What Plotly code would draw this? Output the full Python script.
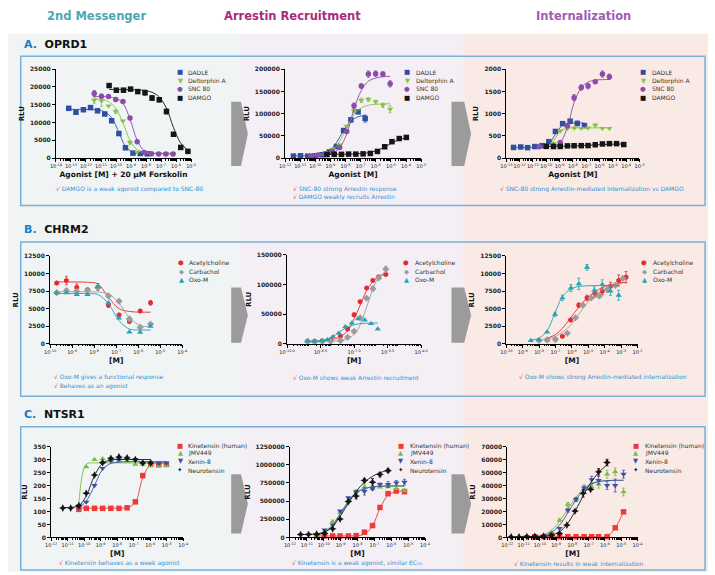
import plotly.graph_objects as go

W, H = 715, 575

# ================= DATA (x = log10 [M], y = RLU) =================
# ---- A. OPRD1 : 2nd messenger ----
A1_DADLE_X = [-13.15, -12.67, -12.17, -11.7, -11.23, -10.75, -10.29, -9.81, -9.37, -8.87, -8.39, -7.9]
A1_DADLE_Y = [14000, 12900, 13600, 14200, 13300, 12400, 10500, 6900, 2900, 1400, 1300, 1200]
A1_DADLE_E = [0, 0, 0, 0, 0, 0, 0, 0, 0, 0, 0, 0]
A1_DADLE_FIT = [13700, 13700, 13700, 13650, 13500, 13000, 11300, 7300, 3300, 1600, 1200, 1100]
A1_DELT_X = [-11.45, -10.97, -10.5, -10.02, -9.54, -9.07, -8.59, -8.11, -7.64, -7.16, -6.68, -6.2]
A1_DELT_Y = [16300, 16100, 14700, 13100, 10500, 4400, 1700, 1400, 1300, 1300, 1300, 1300]
A1_DELT_E = [900, 1500, 0, 500, 0, 500, 0, 0, 0, 0, 0, 0]
A1_DELT_FIT = [16700, 16500, 15900, 14000, 10000, 5000, 2300, 1500, 1350, 1300, 1300, 1300]
A1_SNC_X = [-11.45, -10.97, -10.5, -10.02, -9.54, -9.07, -8.59, -8.11, -7.64, -7.16, -6.68, -6.2]
A1_SNC_Y = [18200, 17400, 17300, 16500, 15900, 11300, 4600, 1600, 1200, 1150, 1150, 1150]
A1_SNC_E = [800, 600, 0, 500, 0, 0, 0, 0, 0, 0, 0, 0]
A1_SNC_FIT = [17300, 17300, 17200, 16800, 15400, 11000, 5000, 2000, 1400, 1250, 1200, 1200]
A1_DAMGO_X = [-10.46, -9.98, -9.5, -9.03, -8.55, -8.07, -7.6, -7.12, -6.64, -6.17, -5.69, -5.21]
A1_DAMGO_Y = [20400, 19100, 19100, 19400, 18700, 18400, 16900, 16400, 13100, 6700, 3000, 1900]
A1_DAMGO_E = [0, 0, 0, 400, 0, 700, 700, 600, 700, 0, 0, 0]
A1_DAMGO_FIT = [19300, 19300, 19300, 19250, 19200, 19000, 18500, 17200, 14000, 8600, 4200, 2200]

# ---- A. OPRD1 : arrestin recruitment ----
A2_DADLE_X = [-11.45, -10.98, -10.5, -10.03, -9.55, -9.07, -8.6, -8.13, -7.65, -7.17, -6.7]
A2_DADLE_Y = [4500, 5200, 4500, 5200, 7500, 14000, 26000, 62000, 86000, 104000, 89000]
A2_DADLE_E = [0, 0, 0, 0, 0, 0, 0, 0, 5000, 0, 8000]
A2_DADLE_FIT = [5000, 5000, 5200, 6000, 8500, 16000, 35000, 62000, 83000, 93000, 96000]
A2_DELT_X = [-10.3, -9.82, -9.35, -8.87, -8.39, -7.92, -7.44, -6.96, -6.49, -6.01, -5.53, -5.05]
A2_DELT_Y = [5000, 8000, 12000, 20000, 30000, 72000, 106000, 130000, 132000, 127000, 119000, 110000]
A2_DELT_E = [0, 0, 0, 0, 0, 0, 4000, 5000, 4000, 3000, 5000, 8000]
A2_DELT_FIT = [5500, 6500, 9000, 17000, 38000, 68000, 98000, 113000, 119000, 121000, 122000, 122000]
A2_SNC_X = [-10.3, -9.82, -9.35, -8.87, -8.39, -7.92, -7.44, -6.96, -6.49, -6.01, -5.53, -5.05]
A2_SNC_Y = [5000, 7000, 10000, 15000, 24000, 60000, 118000, 162000, 189000, 190000, 189000, 167000]
A2_SNC_E = [0, 0, 0, 0, 0, 4000, 6000, 5000, 7000, 6000, 5000, 7000]
A2_SNC_FIT = [5000, 5500, 7000, 11000, 23000, 55000, 110000, 152000, 173000, 180000, 183000, 184000]
A2_DAMGO_X = [-9.23, -8.75, -8.27, -7.8, -7.32, -6.84, -6.36, -5.89, -5.41, -4.93, -4.45, -3.98]
A2_DAMGO_Y = [8000, 8500, 8500, 9000, 9000, 9500, 10500, 15000, 25500, 37000, 44000, 46500]
A2_DAMGO_E = [0, 0, 0, 0, 0, 0, 0, 0, 0, 0, 0, 0]
A2_DAMGO_FIT = [8500, 8600, 8700, 9000, 9500, 10500, 13000, 17500, 25000, 34000, 41500, 46000]

# ---- A. OPRD1 : internalization ----
A3_DADLE_X = [-12.46, -11.92, -11.4, -10.86, -10.32, -9.81, -9.31, -8.77, -8.21, -7.67, -7.13]
A3_DADLE_Y = [240, 250, 235, 260, 280, 370, 600, 775, 830, 780, 730]
A3_DADLE_E = [0, 0, 0, 0, 0, 0, 0, 30, 40, 50, 30]
A3_DADLE_FIT = [240, 240, 242, 245, 255, 310, 540, 740, 785, 790, 790]
A3_DELT_X = [-10.0, -9.46, -8.95, -8.41, -7.89, -7.37, -6.86, -6.32, -5.78, -5.26]
A3_DELT_Y = [250, 330, 610, 670, 680, 670, 680, 740, 670, 670]
A3_DELT_E = [0, 0, 0, 0, 0, 0, 0, 30, 0, 0]
A3_DELT_FIT = [255, 380, 610, 670, 680, 680, 680, 680, 680, 680]
A3_SNC_X = [-10.54, -10.0, -9.46, -8.95, -8.41, -7.91, -7.37, -6.86, -6.32, -5.78, -5.26]
A3_SNC_Y = [255, 270, 280, 350, 730, 1360, 1590, 1620, 1720, 1890, 1830]
A3_SNC_E = [0, 0, 0, 0, 0, 70, 60, 60, 0, 70, 60]
A3_SNC_FIT = [260, 262, 275, 350, 700, 1250, 1580, 1710, 1755, 1765, 1770]
A3_DAMGO_X = [-10.0, -9.46, -8.95, -8.41, -7.91, -7.37, -6.86, -6.32, -5.78, -5.26, -4.72, -4.18]
A3_DAMGO_Y = [265, 260, 262, 275, 278, 280, 282, 300, 318, 325, 325, 305]
A3_DAMGO_E = [0, 0, 0, 0, 0, 0, 0, 0, 0, 0, 0, 0]
A3_DAMGO_FIT = [262, 263, 265, 270, 275, 282, 290, 298, 305, 311, 315, 318]

# ---- B. CHRM2 : 2nd messenger ----
B1_X = [-9.7, -9.26, -8.79, -8.3, -7.83, -7.35, -6.87, -6.4, -5.91, -5.44]
B1_ACH_Y = [8630, 9000, 8020, 7700, 8070, 5500, 4100, 3170, 4660, 5830]
B1_ACH_E = [0, 600, 500, 0, 500, 300, 0, 0, 0, 300]
B1_ACH_FIT = [8800, 8800, 8790, 8750, 8500, 6600, 5000, 4600, 4500, 4500]
B1_CARB_Y = [7280, 7560, 7460, 7600, 8020, 6810, 6060, 3540, 2330, 2800]
B1_CARB_E = [200, 300, 0, 0, 0, 0, 250, 0, 0, 0]
B1_CARB_FIT = [7400, 7400, 7400, 7400, 7350, 7100, 5800, 3700, 2600, 2420]
B1_OXO_Y = [7230, 7230, 7000, 7000, 8070, 5830, 3640, 1680, 1630, 2470]
B1_OXO_E = [0, 0, 0, 0, 0, 0, 0, 0, 0, 0]
B1_OXO_FIT = [7150, 7150, 7150, 7140, 7000, 5700, 3300, 2100, 1970, 1950]

# ---- B. CHRM2 : arrestin recruitment ----
B2_X = [-9.08, -8.76, -8.42, -8.05, -7.61, -7.29, -7.0, -6.73, -6.44, -6.16, -5.9, -5.58]
B2_ACH_Y = [4500, 4500, 5000, 7000, 13000, 25000, 49000, 71000, 94000, 107000, 113000, 117000]
B2_ACH_E = [0, 0, 0, 0, 0, 0, 3000, 0, 0, 0, 0, 0]
B2_ACH_FIT = [4500, 4600, 5000, 6500, 12000, 22000, 42000, 65000, 90000, 105000, 113000, 118000]
B2_CARB_Y = [4000, 3500, 4000, 4500, 5500, 11000, 21000, 44000, 77000, 93000, 111000, 126000]
B2_CARB_E = [0, 0, 0, 0, 0, 0, 0, 0, 0, 4000, 3000, 5000]
B2_CARB_FIT = [4000, 4000, 4100, 4400, 5500, 8500, 16000, 32000, 62000, 92000, 112000, 122000]
B2_OXO_X = [-9.08, -8.78, -8.46, -8.2, -7.95, -7.69, -7.39, -7.1, -6.82, -6.52, -6.24, -5.94]
B2_OXO_Y = [4500, 4000, 5000, 7000, 12000, 18000, 29000, 35000, 42000, 40000, 34000, 25000]
B2_OXO_E = [0, 0, 0, 0, 0, 0, 0, 0, 0, 0, 0, 0]
B2_OXO_FIT = [4200, 4500, 5200, 7500, 12000, 19000, 26500, 31000, 33500, 34500, 35000, 35000]

# ---- B. CHRM2 : internalization ----
B3_OXO_X = [-8.51, -8.01, -7.51, -7.03, -6.58, -6.06, -5.58, -5.08, -4.63, -4.15, -3.65, -3.15]
B3_OXO_Y = [470, 560, 1680, 4200, 6530, 7930, 8530, 10870, 7600, 8400, 7500, 6900]
B3_OXO_E = [0, 0, 0, 300, 400, 500, 800, 400, 500, 700, 600, 700]
B3_OXO_FIT = [550, 800, 1900, 4400, 6700, 7800, 8150, 8250, 8280, 8300, 8300, 8300]
B3_ACH_X = [-7.51, -7.01, -6.58, -6.08, -5.58, -5.08, -4.59, -4.15, -3.65, -3.15, -2.7]
B3_ACH_Y = [560, 650, 1070, 3400, 5500, 6530, 7130, 7460, 8160, 9000, 9470]
B3_ACH_E = [0, 0, 0, 200, 300, 400, 500, 500, 600, 800, 800]
B3_ACH_FIT = [800, 1300, 2200, 3700, 5200, 6500, 7400, 8000, 8400, 8650, 8750]
B3_CARB_X = [-8.01, -7.51, -7.01, -6.28, -5.78, -5.34, -4.83, -4.33, -3.83, -3.35, -2.9]
B3_CARB_Y = [470, 560, 600, 1500, 3700, 5500, 6530, 6800, 7700, 8300, 9300]
B3_CARB_E = [0, 0, 0, 0, 0, 0, 0, 300, 400, 0, 0]
B3_CARB_FIT = [520, 700, 1050, 2200, 3500, 5000, 6400, 7400, 8000, 8400, 8600]

# ---- C. NTSR1 : 2nd messenger ----
C1_NT_X = [-11.29, -10.81, -10.32, -9.87, -9.37, -8.88, -8.38, -7.89, -7.4, -6.9, -6.45, -5.97]
C1_NT_Y = [113, 113, 123, 170, 240, 288, 305, 310, 306, 300, 287, 287]
C1_NT_FIT = [115, 116, 122, 160, 238, 285, 298, 300, 300, 300, 300, 300]
C1_X = [-10.32, -9.87, -9.37, -8.88, -8.38, -7.89, -7.4, -6.9, -6.45, -5.97, -5.48, -5.02]
C1_KIN_Y = [108, 112, 112, 112, 112, 112, 114, 137, 238, 281, 281, 281]
C1_KIN_FIT = [113, 113, 113, 113, 113, 113, 115, 135, 230, 280, 284, 285]
C1_JMV_Y = [121, 272, 300, 303, 294, 296, 294, 281, 281, 277, 274, 277]
C1_JMV_FIT = [125, 282, 287, 287, 287, 287, 287, 287, 287, 287, 287, 287]
C1_XEN_Y = [114, 136, 200, 266, 296, 300, 305, 300, 285, 287, 285, 287]
C1_XEN_FIT = [116, 140, 200, 262, 285, 290, 292, 292, 292, 292, 292, 292]

# ---- C. NTSR1 : arrestin recruitment ----
C2_NT_X = [-11.37, -10.9, -10.42, -9.95, -9.47, -9.03, -8.54, -8.08, -7.59, -7.11, -6.67, -6.19]
C2_NT_Y = [40000, 40000, 45000, 55000, 118000, 253000, 493000, 570000, 783000, 760000, 864000, 918000]
C2_NT_E = [0, 0, 0, 0, 0, 0, 20000, 40000, 30000, 50000, 30000, 25000]
C2_NT_FIT = [40000, 42000, 50000, 75000, 150000, 290000, 470000, 630000, 760000, 840000, 890000, 925000]
C2_X = [-10.42, -9.95, -9.47, -9.03, -8.54, -8.08, -7.59, -7.11, -6.67, -6.19, -5.7, -5.22]
C2_KIN_Y = [20000, 20000, 20000, 20000, 20000, 25000, 72000, 163000, 412000, 602000, 638000, 629000]
C2_KIN_E = [0, 0, 0, 0, 0, 0, 0, 0, 20000, 15000, 20000, 15000]
C2_KIN_FIT = [20000, 20000, 20000, 20000, 20000, 22000, 45000, 160000, 400000, 580000, 630000, 640000]
C2_JMV_Y = [30000, 80000, 217000, 344000, 502000, 633000, 692000, 674000, 692000, 697000, 670000, 647000]
C2_JMV_E = [0, 0, 20000, 20000, 0, 20000, 30000, 0, 0, 0, 0, 20000]
C2_JMV_FIT = [30000, 80000, 180000, 330000, 500000, 620000, 675000, 695000, 700000, 700000, 700000, 700000]
C2_XEN_Y = [35000, 104000, 172000, 366000, 547000, 629000, 633000, 670000, 728000, 728000, 751000, 760000]
C2_XEN_E = [0, 0, 0, 0, 0, 0, 50000, 20000, 20000, 40000, 30000, 40000]
C2_XEN_FIT = [30000, 70000, 160000, 320000, 490000, 610000, 670000, 695000, 705000, 710000, 710000, 710000]

# ---- C. NTSR1 : internalization ----
C3_NT_X = [-11.76, -11.28, -10.8, -10.31, -9.77, -9.29, -8.8, -8.34, -7.84, -7.34, -6.88, -6.39, -5.87]
C3_NT_Y = [500, 500, 600, 800, 1000, 1500, 3000, 9500, 20300, 34000, 37000, 50500, 57700]
C3_NT_E = [0, 0, 0, 0, 0, 0, 0, 0, 0, 3000, 0, 2500, 2500]
C3_NT_FIT = [500, 520, 550, 650, 900, 1800, 4200, 10000, 20000, 32000, 42000, 50000, 56000]
C3_X = [-10.8, -10.31, -9.77, -9.29, -8.79, -8.28, -7.78, -7.28, -6.82, -6.39, -5.87, -5.37, -4.86]
C3_JMV_Y = [500, 600, 1500, 4000, 13300, 25400, 29300, 37000, 39000, 41000, 48700, 50500, 35000]
C3_JMV_E = [0, 0, 0, 0, 1000, 1500, 1500, 2000, 2000, 3000, 3000, 3000, 3000]
C3_JMV_FIT = [600, 900, 2200, 5500, 12500, 22000, 31000, 38000, 41500, 43000, 43700, 44000, 44000]
C3_XEN_Y = [500, 600, 1000, 2500, 7000, 21000, 29300, 38200, 44600, 44000, 40000, 40000, 48700]
C3_XEN_E = [0, 0, 0, 0, 0, 1500, 1500, 2000, 2500, 3000, 3000, 5000, 3000]
C3_XEN_FIT = [500, 700, 1500, 3800, 9500, 19000, 29000, 36500, 41000, 43000, 43800, 44000, 44000]
C3_KIN_X = [-10.31, -9.77, -9.29, -8.79, -8.28, -7.78, -7.28, -6.82, -6.39, -5.87, -5.37, -4.86]
C3_KIN_Y = [500, 500, 500, 500, 500, 500, 500, 500, 500, 600, 7400, 19700]
C3_KIN_FIT = [500, 500, 500, 500, 500, 500, 500, 500, 500, 600, 7400, 19700]

# ---- text ----
HEADERS = ["2nd Messenger", "Arrestin Recruitment", "Internalization"]
ROW_LABELS = [("A.", "OPRD1"), ("B.", "CHRM2"), ("C.", "NTSR1")]
A_NAMES = ["DADLE", "Deltorphin A", "SNC 80", "DAMGO"]
B_NAMES = ["Acetylcholine", "Carbachol", "Oxo-M"]
C_NAMES = ["Kinetensin (human)", "JMV449", "Xenin-8", "Neurotensin"]
NOTES = {
    "A1": ["DAMGO is a weak agonist compared to SNC-80"],
    "A2": ["SNC-80 strong Arrestin response", "DAMGO weakly recruits Arrestin"],
    "A3": ["SNC-80 strong Arrestin-mediated internalization vs DAMGO"],
    "B1": ["Oxo-M gives a functional response", "Behaves as an agonist"],
    "B2": ["Oxo-M shows weak Arrestin recruitment"],
    "B3": ["Oxo-M shows strong Arrestin-mediated internalization"],
    "C1": ["Kinetensin behaves as a week agonist"],
    "C2": ["Kinetensin is a weak agonist, similar EC₅₀"],
    "C3": ["Kinetensin results in weak internalization"],
}

# ================= STYLE / LAYOUT =================
FONT = "DejaVu Sans"
BLUE, GREEN, PURPLE, BLACK = "#2F4FA3", "#86C341", "#8B4BAA", "#151515"
RED, GREY, TEAL = "#E52B2F", "#9C9C9C", "#23A3B3"
KRED, KGREEN, KBLUE = "#EE3A3A", "#78BE43", "#3B4FA6"


def px_x(p):
    return p / W


def px_y(p):
    return 1 - p / H


# panel geometry in pixels: x-span, y-span (top, bottom), log x range, y range, y step
PANELS = {
    "A1": dict(n=1, x=(49, 187), y=(66, 156), xr=(-14, -5), yr=(0, 25000), dy=5000, xt=None,
               xtitle="Agonist [M] + 20 µM Forskolin"),
    "A2": dict(n=2, x=(283, 422), y=(66, 156), xr=(-12, -3), yr=(0, 200000), dy=50000, xt=None,
               xtitle="Agonist [M]"),
    "A3": dict(n=3, x=(509, 645), y=(66, 156), xr=(-13, -3), yr=(0, 2000), dy=500, xt=None,
               xtitle="Agonist [M]"),
    "B1": dict(n=4, x=(43, 178), y=(255, 344), xr=(-10, -4), yr=(0, 12500), dy=2500, xt=None, xtitle="[M]"),
    "B2": dict(n=5, x=(285, 422), y=(254, 344), xr=(-10, -4), yr=(0, 150000), dy=50000,
               xt=[-10.0, -8.5, -7.0, -5.5, -4.0], xtitle="[M]"),
    "B3": dict(n=6, x=(509, 643), y=(255, 344), xr=(-10, -2), yr=(0, 12500), dy=2500, xt=None, xtitle="[M]"),
    "C1": dict(n=7, x=(44, 179), y=(448, 540), xr=(-12, -4), yr=(0, 350), dy=50, xt=None, xtitle="[M]"),
    "C2": dict(n=8, x=(288, 426), y=(448, 540), xr=(-12, -4), yr=(0, 1250000), dy=250000, xt=None, xtitle="[M]"),
    "C3": dict(n=9, x=(510, 643), y=(448, 540), xr=(-12, -4), yr=(0, 70000), dy=10000, xt=None, xtitle="[M]"),
}

fig = go.Figure()
layout = dict(
    width=W, height=H, margin=dict(l=0, r=0, t=0, b=0),
    paper_bgcolor="white", plot_bgcolor="rgba(0,0,0,0)", showlegend=False,
    font=dict(family=FONT, color="#222", size=6),
)

for key, p in PANELS.items():
    n = p["n"]
    sx = "" if n == 1 else str(n)
    lo, hi = p["xr"]
    if p["xt"] is None:
        tv = list(range(lo, hi + 1))
        tt = [f"10<sup>{k}</sup>" for k in tv]
    else:
        tv = p["xt"]
        tt = [f"10<sup>{k:.1f}</sup>" for k in tv]
    minor_vals = [m * 10.0 ** k for k in range(lo, hi) for m in range(2, 10)]
    layout["xaxis" + sx] = dict(
        domain=[px_x(p["x"][0]), px_x(p["x"][1])], anchor="y" + sx, type="log",
        range=[lo, hi], tickmode="array", tickvals=[10.0 ** v for v in tv], ticktext=tt,
        tickangle=0,
        showline=True, linecolor="black", linewidth=1, ticks="outside", ticklen=3,
        tickwidth=0.8, tickcolor="black", showgrid=False, zeroline=False,
        tickfont=dict(size=5, family=FONT, color="#222"),
        minor=dict(tickmode="array", tickvals=minor_vals, ticks="outside", ticklen=1.5,
                   tickwidth=0.6, tickcolor="black", showgrid=False),
        title=dict(text=f"<b>{p['xtitle']}</b>", font=dict(size=7.5, family=FONT, color="#111"), standoff=3),
    )
    y0, y1 = p["yr"]
    layout["yaxis" + sx] = dict(
        domain=[px_y(p["y"][1]), px_y(p["y"][0])], anchor="x" + sx, range=[y0, y1],
        tickmode="linear", tick0=0, dtick=p["dy"], tickformat="d",
        showline=True, linecolor="black", linewidth=1, ticks="outside", ticklen=3,
        tickwidth=0.8, tickcolor="black", showgrid=False, zeroline=False,
        tickfont=dict(size=6, family=FONT, color="#222", weight="bold"),
        title=dict(text="<b>RLU</b>", font=dict(size=7, family=FONT, color="#111"), standoff=4),
    )


def add_series(key, xs, ys, fit, color, symbol, err=None, size=5.5, fit_xs=None):
    n = PANELS[key]["n"]
    sx = "" if n == 1 else str(n)
    xv = [10.0 ** v for v in xs]
    if fit is not None:
        fx = xv if fit_xs is None else [10.0 ** v for v in fit_xs]
        fig.add_trace(go.Scatter(x=fx, y=fit, mode="lines", xaxis="x" + sx, yaxis="y" + sx,
                                 line=dict(color=color, width=0.9, shape="spline", smoothing=1.0),
                                 hoverinfo="skip", cliponaxis=False))
    ey = None
    if err is not None:
        ey = dict(type="data", array=err, visible=True, color=color, thickness=0.8, width=1.5)
    fig.add_trace(go.Scatter(x=xv, y=ys, mode="markers", xaxis="x" + sx, yaxis="y" + sx,
                             marker=dict(color=color, symbol=symbol, size=size, line=dict(width=0)),
                             error_y=ey, cliponaxis=False))


# A row
add_series("A1", A1_DADLE_X, A1_DADLE_Y, A1_DADLE_FIT, BLUE, "square", A1_DADLE_E)
add_series("A1", A1_DELT_X, A1_DELT_Y, A1_DELT_FIT, GREEN, "triangle-down", A1_DELT_E)
add_series("A1", A1_SNC_X, A1_SNC_Y, A1_SNC_FIT, PURPLE, "circle", A1_SNC_E)
add_series("A1", A1_DAMGO_X, A1_DAMGO_Y, A1_DAMGO_FIT, BLACK, "square", A1_DAMGO_E)
add_series("A2", A2_DADLE_X, A2_DADLE_Y, A2_DADLE_FIT, BLUE, "square", A2_DADLE_E)
add_series("A2", A2_DELT_X, A2_DELT_Y, A2_DELT_FIT, GREEN, "triangle-down", A2_DELT_E)
add_series("A2", A2_SNC_X, A2_SNC_Y, A2_SNC_FIT, PURPLE, "circle", A2_SNC_E)
add_series("A2", A2_DAMGO_X, A2_DAMGO_Y, A2_DAMGO_FIT, BLACK, "square", A2_DAMGO_E)
add_series("A3", A3_DADLE_X, A3_DADLE_Y, A3_DADLE_FIT, BLUE, "square", A3_DADLE_E)
add_series("A3", A3_DELT_X, A3_DELT_Y, A3_DELT_FIT, GREEN, "triangle-down", A3_DELT_E)
add_series("A3", A3_SNC_X, A3_SNC_Y, A3_SNC_FIT, PURPLE, "circle", A3_SNC_E)
add_series("A3", A3_DAMGO_X, A3_DAMGO_Y, A3_DAMGO_FIT, BLACK, "square", A3_DAMGO_E)
# B row
add_series("B1", B1_X, B1_ACH_Y, B1_ACH_FIT, RED, "hexagon", B1_ACH_E)
add_series("B1", B1_X, B1_CARB_Y, B1_CARB_FIT, GREY, "diamond", B1_CARB_E)
add_series("B1", B1_X, B1_OXO_Y, B1_OXO_FIT, TEAL, "triangle-up", B1_OXO_E)
add_series("B2", B2_X, B2_ACH_Y, B2_ACH_FIT, RED, "hexagon", B2_ACH_E)
add_series("B2", B2_X, B2_CARB_Y, B2_CARB_FIT, GREY, "diamond", B2_CARB_E)
add_series("B2", B2_OXO_X, B2_OXO_Y, B2_OXO_FIT, TEAL, "triangle-up", B2_OXO_E)
add_series("B3", B3_ACH_X, B3_ACH_Y, B3_ACH_FIT, RED, "hexagon", B3_ACH_E)
add_series("B3", B3_CARB_X, B3_CARB_Y, B3_CARB_FIT, GREY, "diamond", B3_CARB_E)
add_series("B3", B3_OXO_X, B3_OXO_Y, B3_OXO_FIT, TEAL, "triangle-up", B3_OXO_E)
# C row
add_series("C1", C1_X, C1_KIN_Y, C1_KIN_FIT, KRED, "square")
add_series("C1", C1_X, C1_JMV_Y, C1_JMV_FIT, KGREEN, "triangle-up")
add_series("C1", C1_X, C1_XEN_Y, C1_XEN_FIT, KBLUE, "triangle-down")
add_series("C1", C1_NT_X, C1_NT_Y, C1_NT_FIT, BLACK, "star-diamond")
add_series("C2", C2_X, C2_KIN_Y, C2_KIN_FIT, KRED, "square", C2_KIN_E)
add_series("C2", C2_X, C2_JMV_Y, C2_JMV_FIT, KGREEN, "triangle-up", C2_JMV_E)
add_series("C2", C2_X, C2_XEN_Y, C2_XEN_FIT, KBLUE, "triangle-down", C2_XEN_E)
add_series("C2", C2_NT_X, C2_NT_Y, C2_NT_FIT, BLACK, "star-diamond", C2_NT_E)
add_series("C3", C3_KIN_X, C3_KIN_Y, C3_KIN_FIT, KRED, "square")
add_series("C3", C3_X, C3_JMV_Y, C3_JMV_FIT, KGREEN, "triangle-up", C3_JMV_E)
add_series("C3", C3_X, C3_XEN_Y, C3_XEN_FIT, KBLUE, "triangle-down", C3_XEN_E)
add_series("C3", C3_NT_X, C3_NT_Y, C3_NT_FIT, BLACK, "star-diamond", C3_NT_E)

# ================= decorations =================
shapes = []
# column backgrounds
for (a, b, col) in [(0, 237, "#F0F4F5"), (237, 464, "#F4EFF5"), (464, 715, "#F9EAE5")]:
    shapes.append(dict(type="rect", xref="paper", yref="paper", x0=px_x(a), x1=px_x(b),
                       y0=0, y1=px_y(30), fillcolor=col, line=dict(width=0), layer="below"))
# boxes
for (t, btm) in [(53, 204), (241, 397), (428, 573)]:
    shapes.append(dict(type="rect", xref="paper", yref="paper", x0=px_x(13), x1=px_x(712),
                       y0=px_y(btm), y1=px_y(t), line=dict(color="#7AB0D8", width=1.5),
                       fillcolor="rgba(0,0,0,0)", layer="below"))
# arrows between columns
for (yt, yb) in [(99, 164), (287, 343), (476, 536)]:
    for (x0, x1, x2) in [(228, 238, 245), (453, 466, 473)]:
        ym = (yt + yb) / 2
        path = (f"M {px_x(x0)},{px_y(yt)} L {px_x(x1)},{px_y(yt)} L {px_x(x2)},{px_y(ym)} "
                f"L {px_x(x1)},{px_y(yb)} L {px_x(x0)},{px_y(yb)} Z")
        shapes.append(dict(type="path", xref="paper", yref="paper", path=path,
                           fillcolor="#9B9B9B", line=dict(width=0), layer="above"))
layout["shapes"] = shapes

ann = []


def text(x, y, s, size, color="#222", xanchor="left", bold=False):
    ann.append(dict(x=px_x(x), y=px_y(y), xref="paper", yref="paper", text=(f"<b>{s}</b>" if bold else s),
                    showarrow=False, xanchor=xanchor, yanchor="middle",
                    font=dict(size=size, family=FONT, color=color)))


# column headers
for s, x, col in zip(HEADERS, [90, 291, 588], ["#4CA7B4", "#AA2A82", "#A05BB5"]):
    text(x, 12, s, 11.5, col, "center", True)
# row labels
for (letter, name), y in zip(ROW_LABELS, [41, 228, 416]):
    ann.append(dict(x=px_x(14), y=px_y(y), xref="paper", yref="paper", showarrow=False,
                    xanchor="left", yanchor="middle",
                    text=f"<b><span style='color:#1B7DC4'>{letter}</span>  {name}</b>",
                    font=dict(size=11, family=FONT, color="#111")))


# legends (glyph + label)
def legend(names, glyphs, colors, mx, lx, rows):
    for nm, g, c, y in zip(names, glyphs, colors, rows):
        text(mx, y, g, 6.5, c, "center")
        text(lx, y, nm, 6, "#333", "left")


A_GLY, A_COL = ["■", "▼", "●", "■"], [BLUE, GREEN, PURPLE, BLACK]
B_GLY, B_COL = ["⬢", "◆", "▲"], [RED, GREY, TEAL]
C_GLY, C_COL = ["■", "▲", "▼", "✦"], [KRED, KGREEN, KBLUE, BLACK]
legend(A_NAMES, A_GLY, A_COL, 176, 182, [69, 78, 86, 95])
legend(A_NAMES, A_GLY, A_COL, 408, 415, [69, 78, 86, 95])
legend(A_NAMES, A_GLY, A_COL, 649, 656, [69, 78, 86, 95])
legend(B_NAMES, B_GLY, B_COL, 177, 183, [262, 271, 279])
legend(B_NAMES, B_GLY, B_COL, 407, 414, [262, 271, 279])
legend(B_NAMES, B_GLY, B_COL, 650, 657, [262, 271, 279])
legend(C_NAMES, C_GLY, C_COL, 176, 182, [447, 455, 463, 472])
legend(C_NAMES, C_GLY, C_COL, 401, 409, [447, 455, 463, 472])
legend(C_NAMES, C_GLY, C_COL, 641, 649, [447, 455, 463, 472])

# notes with check marks
NOTE_POS = {"A1": (124, 187, "center"), "A2": (289, 187, "left"), "A3": (597, 187, "center"),
            "B1": (45, 378, "left"), "B2": (289, 378, "left"), "B3": (520, 378, "left"),
            "C1": (50, 566, "left"), "C2": (288, 566, "left"), "C3": (515, 566, "left")}
for key, lines in NOTES.items():
    x, y, anc = NOTE_POS[key]
    for i, s in enumerate(lines):
        ann.append(dict(x=px_x(x), y=px_y(y + 8.5 * i), xref="paper", yref="paper", showarrow=False,
                        xanchor=anc, yanchor="middle",
                        text=f"<span style='color:#E5474F'>√</span> {s}",
                        font=dict(size=6, family=FONT, color="#3A8FD0")))

layout["annotations"] = ann
fig.update_layout(**layout)
fig.write_html("out.html", config={"displayModeBar": False},
               post_script="document.body.style.margin='0px';document.body.style.overflow='hidden';")
